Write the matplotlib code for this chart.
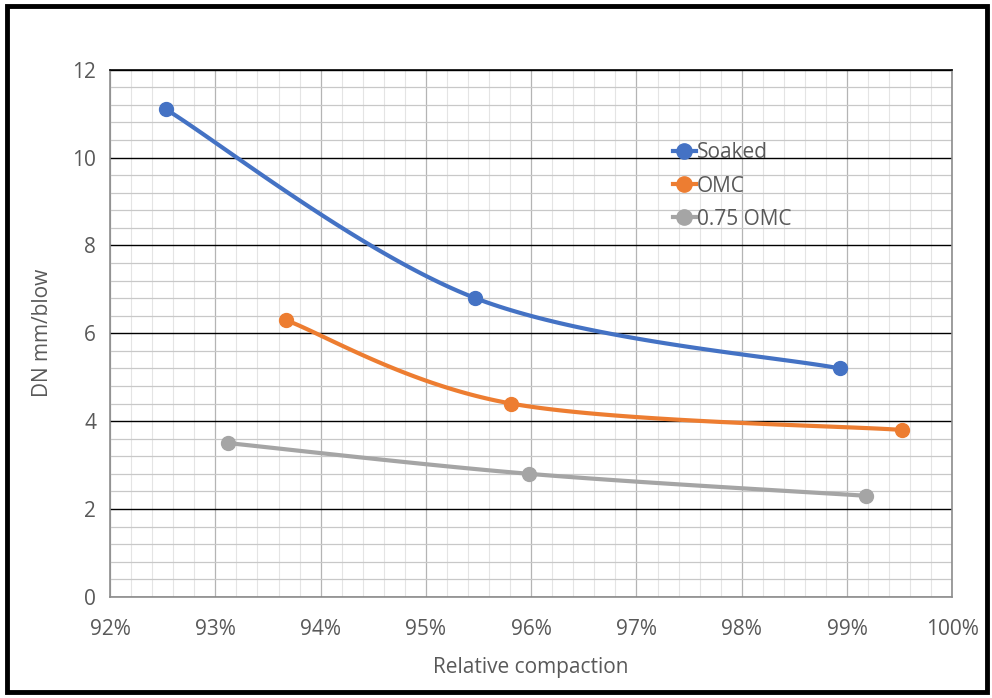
import numpy as np
import matplotlib.pyplot as plt
from matplotlib.ticker import MultipleLocator, FuncFormatter
from matplotlib.patches import Rectangle

plt.rcParams['font.family'] = ['Open Sans', 'DejaVu Sans']

# relative compaction (%) and DN (mm/blow)
soaked_x = [92.53, 95.47, 98.93]
soaked_y = [11.1, 6.8, 5.2]
omc_x = [93.67, 95.81, 99.52]
omc_y = [6.3, 4.4, 3.8]
omc75_x = [93.12, 95.98, 99.18]
omc75_y = [3.5, 2.8, 2.3]

series = [
    ("Soaked", soaked_x, soaked_y, "#4472C4"),
    ("OMC", omc_x, omc_y, "#ED7D31"),
    ("0.75 OMC", omc75_x, omc75_y, "#A5A5A5"),
]


def smooth(xs, ys, n=60):
    # Excel style smoothed line: cubic bezier segments through the points
    p = np.column_stack([xs, ys])
    out = []
    for i in range(len(p) - 1):
        p0 = p[i - 1] if i > 0 else p[i]
        p3 = p[i + 2] if i + 2 < len(p) else p[i + 1]
        c1 = p[i] + (p[i + 1] - p0) / 6
        c2 = p[i + 1] - (p3 - p[i]) / 6
        t = np.linspace(0, 1, n)[:, None]
        seg = ((1 - t) ** 3 * p[i] + 3 * (1 - t) ** 2 * t * c1
               + 3 * (1 - t) * t ** 2 * c2 + t ** 3 * p[i + 1])
        out.append(seg)
    out = np.vstack(out)
    return out[:, 0], out[:, 1]


fig = plt.figure(figsize=(9.92, 6.98), dpi=100)
ax = fig.add_axes([0.111, 0.145, 0.849, 0.755])

for name, xs, ys, col in series:
    sx, sy = smooth(xs, ys)
    ax.plot(sx, sy, color=col, lw=3, solid_capstyle='round', zorder=3)
    ax.plot(xs, ys, 'o', color=col, ms=10, zorder=4)
    ax.plot([], [], '-o', color=col, lw=3, ms=11, label=name)

ax.set_xlim(92, 100)
ax.set_ylim(0, 12)
ax.xaxis.set_major_locator(MultipleLocator(1))
ax.xaxis.set_minor_locator(MultipleLocator(0.2))
ax.yaxis.set_major_locator(MultipleLocator(2))
ax.yaxis.set_minor_locator(MultipleLocator(0.4))
ax.xaxis.set_major_formatter(FuncFormatter(lambda v, p: f"{v:.0f}%"))

ax.grid(axis='y', which='major', color='black', lw=1.0, zorder=1)
ax.grid(axis='x', which='major', color='#b4b4b4', lw=0.9, zorder=1)
ax.grid(axis='y', which='minor', color='#c8c8c8', lw=0.9, zorder=0)
ax.grid(axis='x', which='minor', color='#e4e4e4', lw=0.8, zorder=0)
ax.set_axisbelow(True)

for s in ax.spines.values():
    s.set_color('#8c8c8c')
    s.set_linewidth(1.2)
ax.spines['top'].set_color('black')

ax.tick_params(which='both', length=0, labelsize=15, labelcolor='#595959')
ax.tick_params(axis='y', pad=10)
ax.tick_params(axis='x', pad=16)
ax.set_xlabel("Relative compaction", fontsize=15, color='#595959', labelpad=12)
ax.set_ylabel("DN mm/blow", fontsize=15, color='#595959', labelpad=14)

ax.legend(loc='upper left', bbox_to_anchor=(0.658, 0.878), frameon=False,
          fontsize=15, labelcolor='#595959', handlelength=1.1,
          handletextpad=0.05, labelspacing=0.58, borderaxespad=0)

fig.patches.append(Rectangle((0.007, 0.008), 0.988, 0.984, transform=fig.transFigure,
                             fill=False, edgecolor='black', lw=3.5))

fig.savefig("out.png", dpi=100)
